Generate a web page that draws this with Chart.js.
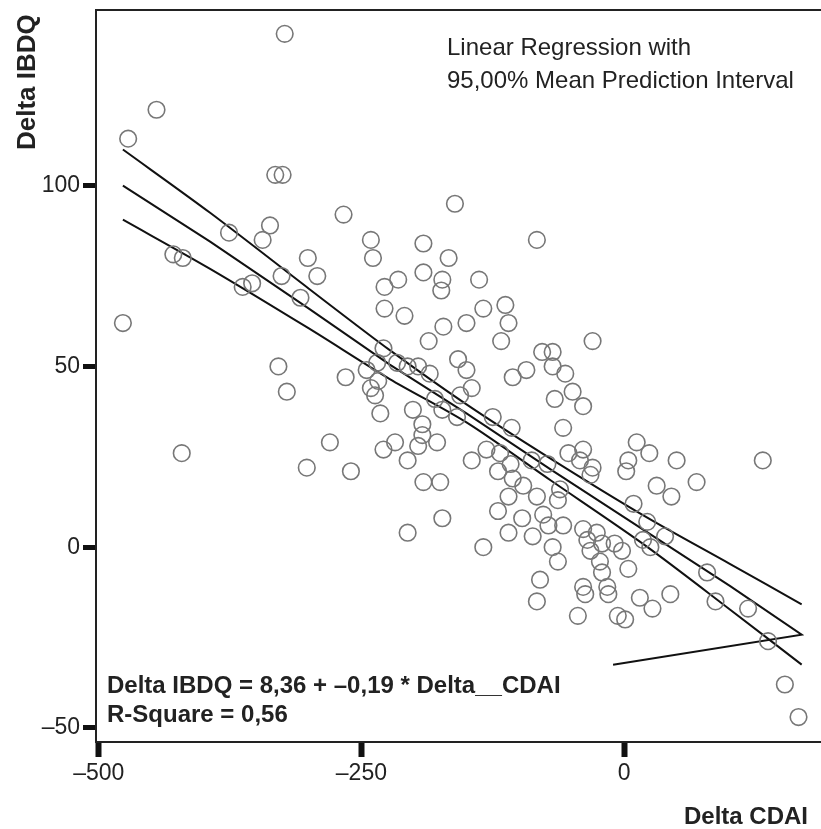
<!DOCTYPE html>
<html>
<head>
<meta charset="utf-8">
<script src="https://cdn.jsdelivr.net/npm/chart.js@4/dist/chart.umd.min.js"></script>
<style>
  body { margin: 0; background: #fff; }
  canvas { display: block; }
</style>
</head>
<body>
<canvas id="myChart" width="821" height="829"></canvas>
<script>
// Delta CDAI (x) / Delta IBDQ (y) per patient
const deltaCDAI = [
  -323, -445, -472, -332, -325, -429, -420, -477, -421, 132, 118, 137, 153, 166,
  -267, -337, -344, -376, -241, -239, -301, -292, -326, -354, -363, -308, -228, -228,
  -229, -329, -265, -321, -245, -235, -234, -241, -237, -232,
  -161, -83, -191, -167, -191, -173, -174, -138, -215, -209, -172, -150, -134, -113,
  -110, -117, -186, -158, -150, -145, -106, -93, -78, -68, -68, -66, -201, -216,
  -206, -196, -185, -180, -173, -156,
  -30, -56, -49, -39,
  -280, -302, -260, -229,
  -192, -192, -178, -218, -196, -206, -191, -175, -173, -206, -145, -131, -159, -125,
  -107, -120, -106, -96, -110, -83, -120, -97, -77, -72, -110, -87, -68, -63,
  -134, -80, -83, -118, -88, -73, -108,
  -58, 12, 24, 4, 2, 50, -53, -39, -42, -30, -32, 31, 45, 69,
  9, 22, 39, 18, 25, 79, 87, -61, -63, -58, -39, -26, -35, -21,
  -9, -2, -32, -23, 4, -21, -39, -37, -16, -15, 15, 27, 44, -44,
  -6, 1
];
const deltaIBDQ = [
  142, 121, 113, 103, 103, 81, 80, 62, 26, 24, -17, -26, -38, -47,
  92, 89, 85, 87, 85, 80, 80, 75, 75, 73, 72, 69, 72, 66,
  55, 50, 47, 43, 49, 51, 46, 44, 42, 37,
  95, 85, 84, 80, 76, 74, 71, 74, 74, 64, 61, 62, 66, 67,
  62, 57, 57, 52, 49, 44, 47, 49, 54, 54, 50, 41, 38, 51,
  50, 50, 48, 41, 38, 42,
  57, 48, 43, 39,
  29, 22, 21, 27,
  34, 31, 29, 29, 28, 24, 18, 18, 8, 4, 24, 27, 36, 36,
  33, 21, 19, 17, 14, 14, 10, 8, 9, 6, 4, 3, 0, -4,
  0, -9, -15, 26, 24, 23, 23,
  33, 29, 26, 24, 21, 24, 26, 27, 24, 22, 20, 17, 14, 18,
  12, 7, 3, 2, 0, -7, -15, 16, 13, 6, 5, 4, 2, 1,
  1, -1, -1, -4, -6, -7, -11, -13, -11, -13, -14, -17, -13, -19,
  -19, -20
];

// fit line and 95% mean prediction band
const bandX  = [-477, -394, -300, -223, -150, -70, 20, 101, 169];
const fitY   = [100, 84.5, 66, 50.5, 37, 21.5, 4.5, -10.8, -24.2];
const upperY = [110, 92.5, 71.5, 54.5, 39.5, 24.5, 8.5, -4.7, -15.8];
const lowerY = [90.6, 77, 60.5, 46.5, 34.5, 18.5, 0.5, -17.3, -32.5];
// stray segment at the end of the fit line
const fitTailX = [-10.5];
const fitTailY = [-32.5];

const xTicks = [-500, -250, 0];
const yTicks = [-50, 0, 50, 100];

const xTitle = "Delta CDAI";
const yTitle = "Delta IBDQ";
const noteLines = ["Linear Regression with", "95,00% Mean Prediction Interval"];
const eqLines = ["Delta IBDQ = 8,36 + \u20130,19 * Delta__CDAI", "R-Square = 0,56"];

const FONT = '"Liberation Sans", Arial, sans-serif';

function pts(xs, ys) {
  return xs.map((x, i) => ({ x: x, y: ys[i] }));
}
function fmt(v) {
  return v < 0 ? "\u2013" + Math.abs(v) : String(v);
}

const decor = {
  id: "decor",
  afterDraw(chart) {
    const ctx = chart.ctx;
    const a = chart.chartArea;
    ctx.save();
    // top frame line
    ctx.strokeStyle = "#222";
    ctx.lineWidth = 2;
    ctx.beginPath();
    ctx.moveTo(a.left, a.top);
    ctx.lineTo(a.right, a.top);
    ctx.stroke();

    ctx.fillStyle = "#222";
    ctx.textBaseline = "alphabetic";
    ctx.textAlign = "left";
    ctx.font = "24px " + FONT;
    ctx.fillText(noteLines[0], 447, 55);
    ctx.fillText(noteLines[1], 447, 88);

    ctx.font = "bold 24px " + FONT;
    ctx.fillText(eqLines[0], 107, 693);
    ctx.fillText(eqLines[1], 107, 722);

    ctx.textAlign = "right";
    ctx.fillText(xTitle, 808, 824);

    ctx.translate(35, 150);
    ctx.rotate(-Math.PI / 2);
    ctx.textAlign = "left";
    ctx.font = "bold 26px " + FONT;
    ctx.fillText(yTitle, 0, 0);
    ctx.restore();
  }
};

const lineStyle = {
  showLine: true,
  pointRadius: 0,
  borderColor: "#111",
  borderWidth: 2,
  fill: false
};

const chart = new Chart(document.getElementById("myChart"), {
  type: "scatter",
  data: {
    datasets: [
      {
        data: pts(deltaCDAI, deltaIBDQ),
        pointStyle: "circle",
        pointRadius: 8.3,
        borderWidth: 1.6,
        borderColor: "#777",
        backgroundColor: "rgba(0,0,0,0)"
      },
      Object.assign({ data: pts(bandX, upperY), tension: 0.3 }, lineStyle),
      Object.assign({ data: pts(bandX, lowerY), tension: 0.3 }, lineStyle),
      Object.assign({ data: pts(bandX.concat(fitTailX), fitY.concat(fitTailY)), tension: 0 }, lineStyle)
    ]
  },
  options: {
    responsive: false,
    animation: false,
    layout: { autoPadding: false, padding: { top: 10, right: 0, left: 0, bottom: 0 } },
    plugins: { legend: { display: false }, tooltip: { enabled: false } },
    scales: {
      x: {
        type: "linear",
        min: -502.6,
        max: 187.4,
        afterBuildTicks: (s) => { s.ticks = xTicks.map(v => ({ value: v })); },
        afterFit: (s) => { s.height = 87; s.paddingLeft = 0; s.paddingRight = 0; },
        ticks: { callback: fmt, color: "#222", font: { size: 23, family: FONT }, padding: 3, maxRotation: 0 },
        grid: { drawOnChartArea: false, drawTicks: true, tickLength: 15, tickWidth: 6, tickColor: "#111" },
        border: { display: true, color: "#222", width: 2 }
      },
      y: {
        type: "linear",
        min: -53.9,
        max: 148.6,
        afterBuildTicks: (s) => { s.ticks = yTicks.map(v => ({ value: v })); },
        afterFit: (s) => { s.width = 96; s.paddingTop = 0; s.paddingBottom = 0; },
        ticks: { callback: fmt, color: "#222", font: { size: 23, family: FONT }, padding: 3 },
        grid: { drawOnChartArea: false, drawTicks: true, tickLength: 13, tickWidth: 5, tickColor: "#111" },
        border: { display: true, color: "#222", width: 2 }
      }
    }
  },
  plugins: [decor]
});
</script>
</body>
</html>
